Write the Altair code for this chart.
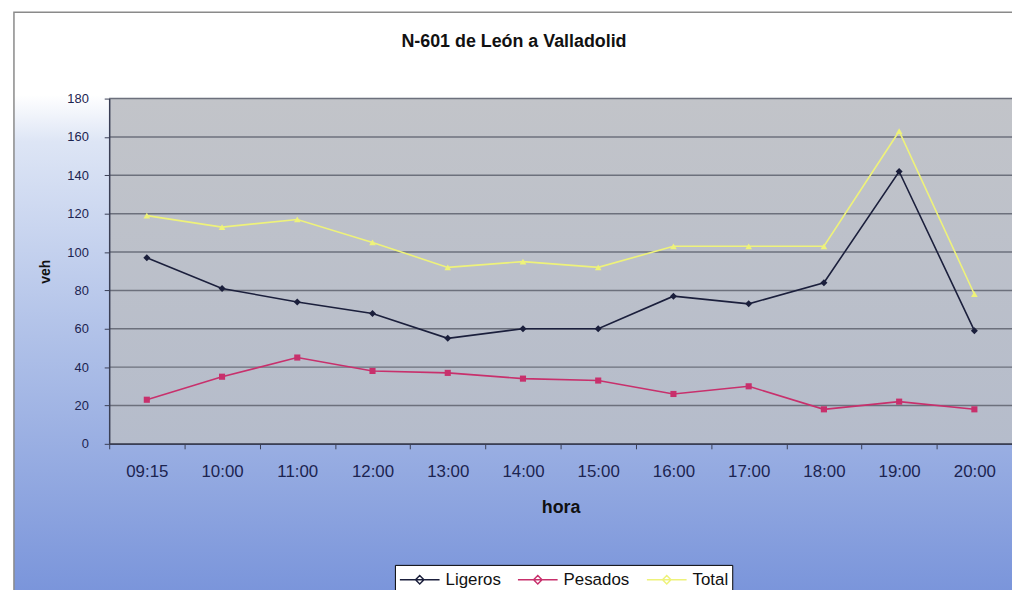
import altair as alt
import pandas as pd

horas = ["09:15", "10:00", "11:00", "12:00", "13:00", "14:00",
         "15:00", "16:00", "17:00", "18:00", "19:00", "20:00"]
ligeros = [97, 81, 74, 68, 55, 60, 60, 77, 73, 84, 142, 59]
pesados = [23, 35, 45, 38, 37, 34, 33, 26, 30, 18, 22, 18]
total = [119, 113, 117, 105, 92, 95, 92, 103, 103, 103, 163, 78]
series = ["Ligeros", "Pesados", "Total"]
colors = ["#1b1f3c", "#c8306c", "#eef27a"]
shapes = ["diamond", "square", "triangle-up"]
sizes = [50, 38, 45]
y_ticks = [0, 20, 40, 60, 80, 100, 120, 140, 160, 180]

rows = []
for name, vals in zip(series, [ligeros, pesados, total]):
    for h, v in zip(horas, vals):
        rows.append({"hora": h, "veh": v, "serie": name})
df = pd.DataFrame(rows)

W, H = 910, 348
FONT = "Liberation Sans"

one = pd.DataFrame({"k": [0]})

bg_grad = alt.Gradient(
    gradient="linear", x1=0, y1=0, x2=0, y2=1,
    stops=[alt.GradientStop(offset=0, color="#ffffff"),
           alt.GradientStop(offset=0.14, color="#ffffff"),
           alt.GradientStop(offset=0.22, color="#dde5f5"),
           alt.GradientStop(offset=0.55, color="#b0c1e8"),
           alt.GradientStop(offset=1, color="#7893da")])

plot_grad = alt.Gradient(
    gradient="linear", x1=0, y1=0, x2=0, y2=1,
    stops=[alt.GradientStop(offset=0, color="#c2c4c9"),
           alt.GradientStop(offset=1, color="#b5bccb")])

yaxis = alt.Axis(values=y_ticks, grid=False, tickSize=5, labelPadding=16,
                 labelOverlap=False, titlePadding=14, zindex=1,
                 labelFontSize=13, titleFontSize=14,
                 titleFontWeight="bold", labelColor="#1c2450",
                 titleColor="#111111", domainColor="#3a3f55",
                 tickColor="#3a3f55", domainWidth=1.5,
                 labelFont=FONT, titleFont=FONT)
yscale = alt.Scale(domain=[0, 180])

bg = alt.Chart(one).mark_rect(fill=bg_grad, stroke="#8a8a8a", strokeWidth=1.5).encode(
    x=alt.value(-96), x2=alt.value(W + 20), y=alt.value(-87), y2=alt.value(H + 160))

plot_bg = alt.Chart(one).mark_rect(fill=plot_grad).encode(
    x=alt.value(0), x2=alt.value(W), y=alt.value(0), y2=alt.value(H))

grid = alt.Chart(pd.DataFrame({"v": y_ticks})).mark_rule(
    color="#6c707c", strokeWidth=1.5).encode(
    y=alt.Y("v:Q", title="veh", scale=yscale, axis=yaxis))

title = alt.Chart(one).mark_text(
    text="N-601 de León a Valladolid", font=FONT, fontWeight="bold",
    fontSize=18, color="#111111", align="center", baseline="middle").encode(
    x=alt.value(518 - 110), y=alt.value(40 - 97))

xenc = alt.X("hora:N", sort=horas, title="hora",
             scale=alt.Scale(type="band", paddingInner=0, paddingOuter=0),
             axis=alt.Axis(labelAngle=0, tickBand="extent", tickSize=5,
                           labelPadding=15, titlePadding=19, zindex=1,
                           labelFontSize=17, titleFontSize=18,
                           titleFontWeight="bold", labelColor="#1c2450",
                           titleColor="#111111", domainColor="#3a3f55",
                           tickColor="#3a3f55", domainWidth=1.5,
                           labelFont=FONT, titleFont=FONT))
yenc = alt.Y("veh:Q", title="veh", scale=yscale, axis=yaxis)

cenc = alt.Color("serie:N", sort=series,
                 scale=alt.Scale(domain=series, range=colors),
                 legend=alt.Legend(
                     title=None, orient="none", legendX=288, legendY=470,
                     direction="horizontal", columns=3,
                     fillColor="#ffffff", strokeColor="#000000", padding=4,
                     symbolType="M-1,0H3M1,-0.42L1.42,0L1,0.42L0.58,0Z",
                     symbolSize=400, symbolStrokeWidth=1.5,
                     labelFontSize=17, labelFont=FONT,
                     labelColor="#111111", columnPadding=14, labelOffset=25))

lines = alt.Chart(df).mark_line(strokeWidth=1.6).encode(
    x=xenc, y=yenc, color=cenc)

point_layers = []
for name, col, shp, sz in zip(series, colors, shapes, sizes):
    point_layers.append(
        alt.Chart(df).transform_filter(alt.datum.serie == name)
        .mark_point(filled=True, size=sz, opacity=1, color=col, shape=shp)
        .encode(x=xenc, y=yenc))

chart = alt.layer(bg, plot_bg, grid, title, lines, *point_layers).properties(
    width=W, height=H,
    autosize=alt.AutoSizeParams(type="none"),
    padding={"left": 102, "top": 89, "right": 0, "bottom": 145},
).configure_view(stroke=None)

chart.save("out.html", embed_options={"renderer": "svg", "actions": False})
